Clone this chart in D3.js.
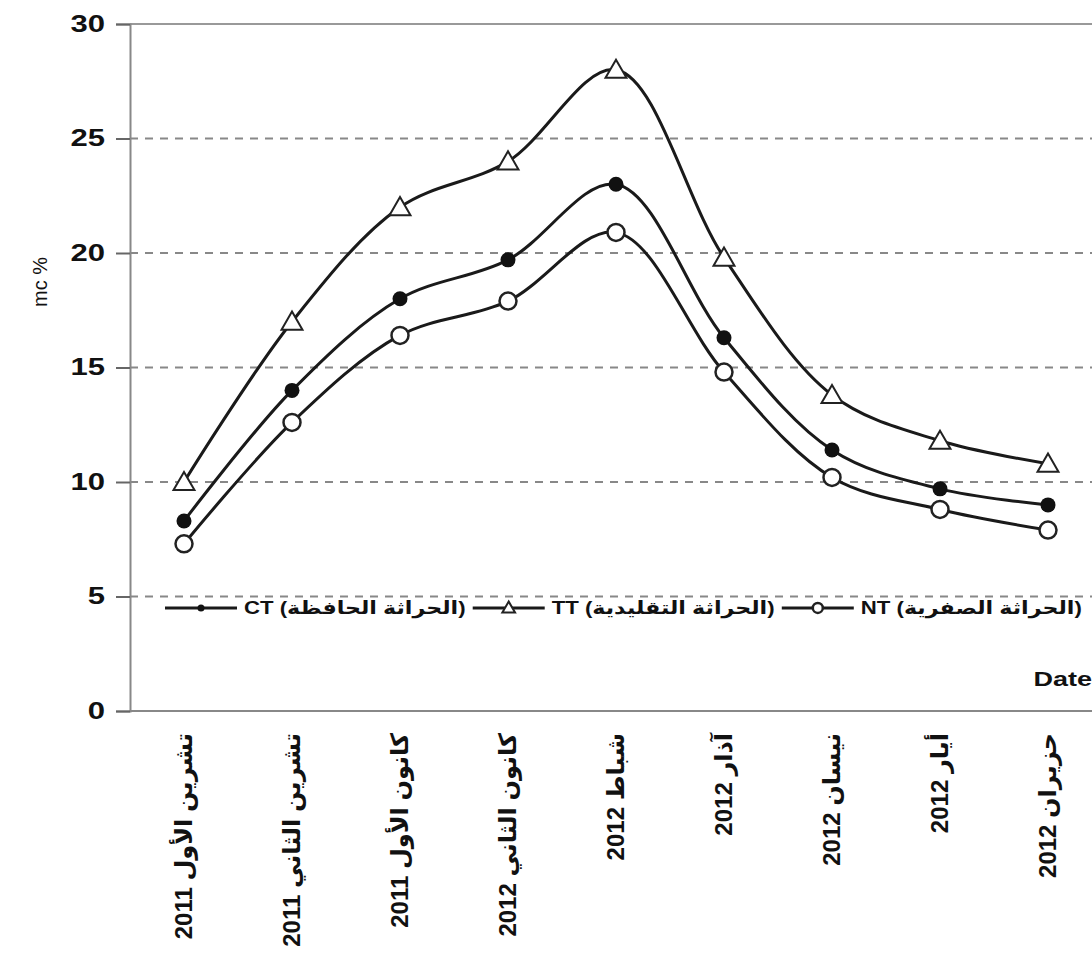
<!DOCTYPE html>
<html>
<head>
<meta charset="utf-8">
<script src="https://cdn.jsdelivr.net/npm/d3@7"></script>
<style>
  body { margin: 0; background: #fff; }
  text { font-family: "Liberation Sans", "DejaVu Sans", Arial, sans-serif; fill: #111; }
</style>
</head>
<body>
<script>
const months = [
  'تشرين الأول 2011', 'تشرين الثاني 2011', 'كانون الأول 2011',
  'كانون الثاني 2012', 'شباط 2012', 'آذار 2012',
  'نيسان 2012', 'أيار 2012', 'حزيران 2012'
]

const ttValues = [10, 17, 22, 24, 28, 19.8, 13.8, 11.8, 10.8]
const ctValues = [8.3, 14, 18, 19.7, 23, 16.3, 11.4, 9.7, 9.0]
const ntValues = [7.3, 12.6, 16.4, 17.9, 20.9, 14.8, 10.2, 8.8, 7.9]

const yTicks = [0, 5, 10, 15, 20, 25, 30]

const series = [
  { key: 'CT', label: 'CT (الحراثة الحافظة)', values: ctValues, marker: 'dot' },
  { key: 'TT', label: 'TT (الحراثة التقليدية)', values: ttValues, marker: 'triangle' },
  { key: 'NT', label: 'NT (الحراثة الصفرية)', values: ntValues, marker: 'circle' }
]

const width = 1092
const height = 956
const margin = { top: 24, bottom: 245, left: 130, right: -10 }
const stretch = 1.35 // the source figure is a bit wide in its text

const svg = d3.select('body')
  .append('svg')
  .attr('width', width)
  .attr('height', height)

const x = d3.scalePoint()
  .domain(months)
  .range([margin.left, width - margin.right])
  .padding(0.5)

const y = d3.scaleLinear()
  .domain([0, 30])
  .range([height - margin.bottom, margin.top])

// grid lines
svg.append('g')
  .selectAll('line')
  .data(yTicks.filter(d => d > 0))
  .join('line')
  .attr('x1', margin.left)
  .attr('x2', width)
  .attr('y1', d => y(d))
  .attr('y2', d => y(d))
  .attr('stroke', d => d === 30 ? '#999' : '#888')
  .attr('stroke-width', 2)
  .attr('stroke-dasharray', d => d === 30 ? null : '8,7')

// Y-Axis
const yAxis = svg.append('g')
  .attr('transform', `translate(${margin.left}, 0)`)
  .call(d3.axisLeft(y).tickValues(yTicks).tickSize(14))
yAxis.select('.domain').attr('stroke', '#888').attr('stroke-width', 2)
yAxis.selectAll('.tick line').attr('stroke', '#666').attr('stroke-width', 2)
yAxis.selectAll('.tick text')
  .attr('x', -25 / stretch)
  .attr('transform', `scale(${stretch}, 1)`)
  .style('font-size', '23px')
  .style('font-weight', 'bold')
  .style('font-family', '"Liberation Sans", Arial, sans-serif')

// X-Axis line
svg.append('line')
  .attr('x1', margin.left)
  .attr('x2', width)
  .attr('y1', y(0))
  .attr('y2', y(0))
  .attr('stroke', '#888')
  .attr('stroke-width', 2)

svg.append('g')
  .selectAll('text')
  .data(months)
  .join('text')
  .attr('transform', d => `translate(${x(d)}, ${y(0) + 22}) rotate(-90)`)
  .attr('dy', '0.35em')
  .attr('text-anchor', 'end')
  .style('font-size', '24px')
  .style('font-weight', 'bold')
  .text(d => d)

// lines
const line = d3.line()
  .x((d, i) => x(months[i]))
  .y(d => y(d))
  .curve(d3.curveCatmullRom.alpha(0.5))

series.forEach(s => {
  svg.append('path')
    .datum(s.values)
    .attr('d', line)
    .attr('fill', 'none')
    .attr('stroke', '#1a1a1a')
    .attr('stroke-width', 3)
})

function drawMarker(g, type, big) {
  if (type === 'triangle') {
    g.append('path')
      .attr('d', d3.symbol(d3.symbolTriangle, big ? 190 : 70)())
      .attr('transform', `translate(0, ${big ? 2 : 1})`)
      .attr('fill', '#fff')
      .attr('stroke', '#222')
      .attr('stroke-width', 2)
  } else if (type === 'dot') {
    g.append('circle')
      .attr('r', big ? 7.5 : 3.5)
      .attr('fill', '#111')
  } else {
    g.append('circle')
      .attr('r', big ? 8.5 : 5)
      .attr('fill', '#fff')
      .attr('stroke', '#222')
      .attr('stroke-width', 2.5)
  }
}

series.forEach(s => {
  svg.append('g')
    .selectAll('g')
    .data(s.values)
    .join('g')
    .attr('transform', (d, i) => `translate(${x(months[i])}, ${y(d)})`)
    .each(function() { drawMarker(d3.select(this), s.marker, true) })
})

// legend: squeeze the text so the row spans the same width as the source
const legendLeft = 165
const legendRight = 1082
const lineLen = 72
const legend = svg.append('g').attr('transform', `translate(${legendLeft}, ${y(4.5)})`)
const items = series.map(s => {
  const g = legend.append('g')
  g.append('line')
    .attr('x1', 0).attr('x2', lineLen)
    .attr('stroke', '#1a1a1a').attr('stroke-width', 3)
  drawMarker(g.append('g').attr('transform', `translate(${lineLen / 2}, 0)`), s.marker, false)
  const t = g.append('text')
    .attr('dy', '0.35em')
    .style('font-size', '18px')
    .style('font-weight', 'bold')
    .text(s.label)
  return { g, t, w: t.node().getComputedTextLength() }
})
const gap = 7
const textSpace = legendRight - legendLeft - series.length * (lineLen + gap) - (series.length - 1) * gap
const sx = textSpace / d3.sum(items, d => d.w)
let lx = 0
items.forEach(d => {
  d.g.attr('transform', `translate(${lx}, 0)`)
  d.t.attr('x', (lineLen + gap) / sx).attr('transform', `scale(${sx}, 1)`)
  lx += lineLen + gap + d.w * sx + gap
})

svg.append('text')
  .attr('x', 40)
  .attr('y', 282)
  .attr('transform', 'rotate(-90, 40, 282)')
  .attr('text-anchor', 'middle')
  .attr('dy', '0.35em')
  .style('font-size', '20px')
  .text('mc %')

svg.append('text')
  .attr('x', 1092 / stretch)
  .attr('y', 686)
  .attr('transform', `scale(${stretch}, 1)`)
  .attr('text-anchor', 'end')
  .style('font-size', '20px')
  .style('font-weight', 'bold')
  .text('Date')
</script>
</body>
</html>
